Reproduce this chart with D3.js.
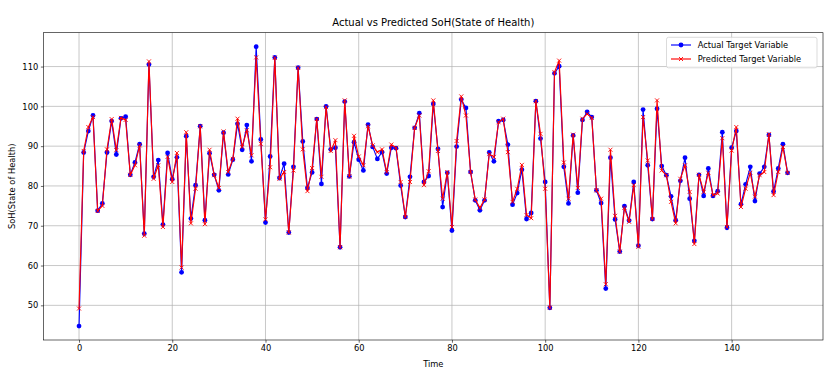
<!DOCTYPE html>
<html><head><meta charset="utf-8">
<script src="https://cdn.jsdelivr.net/npm/d3@7"></script>
<style>body{margin:0;background:#fff}svg{display:block}text{font-family:"DejaVu Sans",sans-serif}</style>
</head><body><svg id="c" width="829" height="376"></svg>
<script>
const actual = [44.8,88.4,93.8,97.7,73.8,75.6,88.4,96.3,87.9,97.0,97.4,82.8,85.9,90.5,68.0,110.5,82.3,86.5,70.3,88.3,
81.7,87.2,58.3,92.5,71.8,80.2,95.0,71.4,88.2,82.8,78.9,93.4,82.9,86.6,95.6,89.1,95.3,86.2,115.0,91.7,
70.8,87.4,112.3,82.0,85.6,68.3,84.8,109.7,91.2,79.5,83.4,96.8,80.5,100.0,89.2,89.6,64.6,101.2,82.4,91.0,
86.6,83.9,95.4,89.8,86.8,88.5,83.1,89.6,89.5,80.1,72.2,82.3,94.6,98.3,81.0,82.5,100.6,89.3,74.7,83.3,
68.8,89.9,101.7,99.6,83.5,76.4,73.9,76.4,88.4,86.2,96.3,96.6,90.4,75.3,78.2,84.1,71.7,73.2,101.3,91.9,
81.0,49.4,108.3,110.1,84.8,75.6,92.7,78.3,96.6,98.6,97.3,78.9,75.7,54.2,87.1,71.6,63.5,74.9,71.3,81.0,
65.0,99.2,85.2,71.7,99.4,85.0,82.7,77.4,71.4,81.3,87.1,76.8,66.2,82.8,77.5,84.4,77.5,78.7,93.5,69.5,
89.6,93.8,75.4,80.4,84.8,76.2,83.1,84.8,92.8,78.6,84.4,90.5,83.3];
const predicted = [49.2,88.8,94.8,97.3,73.7,75.0,89.2,96.8,89.0,97.1,96.6,82.8,85.2,90.2,67.5,111.3,81.8,85.2,69.7,87.3,
81.0,88.3,59.5,93.5,70.6,79.3,95.0,70.4,89.1,82.7,79.5,93.7,83.5,86.8,96.9,89.8,94.0,87.7,112.3,90.6,
71.6,84.7,112.2,81.8,83.5,68.3,83.9,109.7,89.2,78.7,84.5,96.8,82.3,99.8,88.8,91.5,64.6,101.5,82.4,92.6,
87.4,85.2,95.0,90.2,88.5,89.2,83.5,90.4,89.6,81.0,72.2,81.0,94.6,97.7,80.2,83.7,101.5,88.8,76.8,83.5,
69.7,91.3,102.5,97.7,83.5,76.6,74.5,76.6,88.0,87.3,96.0,96.9,88.5,76.0,79.3,85.3,72.7,71.9,101.3,93.1,
79.3,49.4,108.6,111.5,85.9,76.8,92.9,79.5,96.9,98.1,97.1,78.9,76.8,55.3,89.1,72.5,63.5,74.5,71.0,80.2,
64.7,97.3,86.4,71.7,101.5,83.9,82.7,76.0,70.6,81.8,85.2,78.5,65.4,82.8,78.5,83.3,77.7,78.1,92.0,69.7,
88.9,94.8,74.7,79.3,83.3,77.3,82.7,83.5,93.0,77.7,83.5,89.8,83.3];
const xTicks = [0,20,40,60,80,100,120,140];
const yTicks = [50,60,70,80,90,100,110];
const seriesNames = ["Actual Target Variable","Predicted Target Variable"];
const title = "Actual vs Predicted SoH(State of Health)";
const xLabel = "Time", yLabel = "SoH(State of Health)";

const svg = d3.select("#c");
const L=43.6, R=823, T=32.7, B=340;
const n = actual.length;
const pad = (n-1)*0.05;
const x = d3.scaleLinear().domain([-pad, n-1+pad]).range([L,R]);
const ymin = d3.min(actual.concat(predicted)), ymax = d3.max(actual.concat(predicted));
const yp = (ymax-ymin)*0.05;
const y = d3.scaleLinear().domain([ymin-yp, ymax+yp]).range([B,T]);

// grid
svg.append("g").selectAll("line").data(xTicks).join("line")
  .attr("x1",d=>x(d)).attr("x2",d=>x(d)).attr("y1",T).attr("y2",B)
  .attr("stroke","#b0b0b0").attr("stroke-width",0.7);
svg.append("g").selectAll("line").data(yTicks).join("line")
  .attr("y1",d=>y(d)).attr("y2",d=>y(d)).attr("x1",L).attr("x2",R)
  .attr("stroke","#b0b0b0").attr("stroke-width",0.7);

// axes
const fs = 8.3;
const xa = svg.append("g").attr("transform",`translate(0,${B})`)
  .call(d3.axisBottom(x).tickValues(xTicks).tickSize(2.7).tickPadding(2.7).tickFormat(d3.format("d")));
const ya = svg.append("g").attr("transform",`translate(${L},0)`)
  .call(d3.axisLeft(y).tickValues(yTicks).tickSize(2.7).tickPadding(2.7).tickFormat(d3.format("d")));
[xa,ya].forEach(a=>{a.select(".domain").remove();
  a.selectAll("text").attr("font-size",fs).attr("fill","#000").attr("font-family","DejaVu Sans");
  a.selectAll("line").attr("stroke","#000").attr("stroke-width",0.6);});

svg.append("rect").attr("x",L).attr("y",T).attr("width",R-L).attr("height",B-T)
  .attr("fill","none").attr("stroke","#000").attr("stroke-width",0.6);

// lines
const line = d3.line().x((d,i)=>x(i)).y(d=>y(d));
svg.append("path").datum(actual).attr("d",line).attr("fill","none").attr("stroke","#0000ff").attr("stroke-width",1.15);
svg.append("g").selectAll("circle").data(actual).join("circle")
  .attr("cx",(d,i)=>x(i)).attr("cy",d=>y(d)).attr("r",2.4).attr("fill","#0000ff");
svg.append("path").datum(predicted).attr("d",line).attr("fill","none").attr("stroke","#ff0000").attr("stroke-width",1.15);
const ms=2.0;
svg.append("g").selectAll("path").data(predicted).join("path")
  .attr("d",(d,i)=>{const cx=x(i),cy=y(d);return `M${cx-ms},${cy-ms}L${cx+ms},${cy+ms}M${cx-ms},${cy+ms}L${cx+ms},${cy-ms}`;})
  .attr("stroke","#ff0000").attr("stroke-width",0.9).attr("fill","none");

// title & labels
svg.append("text").attr("x",(L+R)/2).attr("y",T-7).attr("text-anchor","middle").attr("font-size",10).text(title);
svg.append("text").attr("x",(L+R)/2).attr("y",367).attr("text-anchor","middle").attr("font-size",fs).text(xLabel);
svg.append("text").attr("transform",`translate(15,${(T+B)/2}) rotate(-90)`).attr("text-anchor","middle").attr("font-size",fs).text(yLabel);

// legend
const lg = svg.append("g");
lg.append("rect").attr("x",666.5).attr("y",37.3).attr("width",150.5).attr("height",30.5).attr("rx",2)
  .attr("fill","#fff").attr("fill-opacity",0.8).attr("stroke","#cccccc").attr("stroke-width",0.7);
const cols=["#0000ff","#ff0000"];
seriesNames.forEach((s,k)=>{
  const cy = 45 + k*14;
  lg.append("line").attr("x1",671).attr("x2",691).attr("y1",cy).attr("y2",cy).attr("stroke",cols[k]).attr("stroke-width",1.15);
  if(k===0) lg.append("circle").attr("cx",681).attr("cy",cy).attr("r",2.4).attr("fill",cols[k]);
  else lg.append("path").attr("d",`M${681-ms},${cy-ms}L${681+ms},${cy+ms}M${681-ms},${cy+ms}L${681+ms},${cy-ms}`).attr("stroke",cols[k]).attr("stroke-width",0.9);
  lg.append("text").attr("x",697.7).attr("y",cy).attr("dy","0.35em").attr("font-size",fs).text(s);
});
</script></body></html>
